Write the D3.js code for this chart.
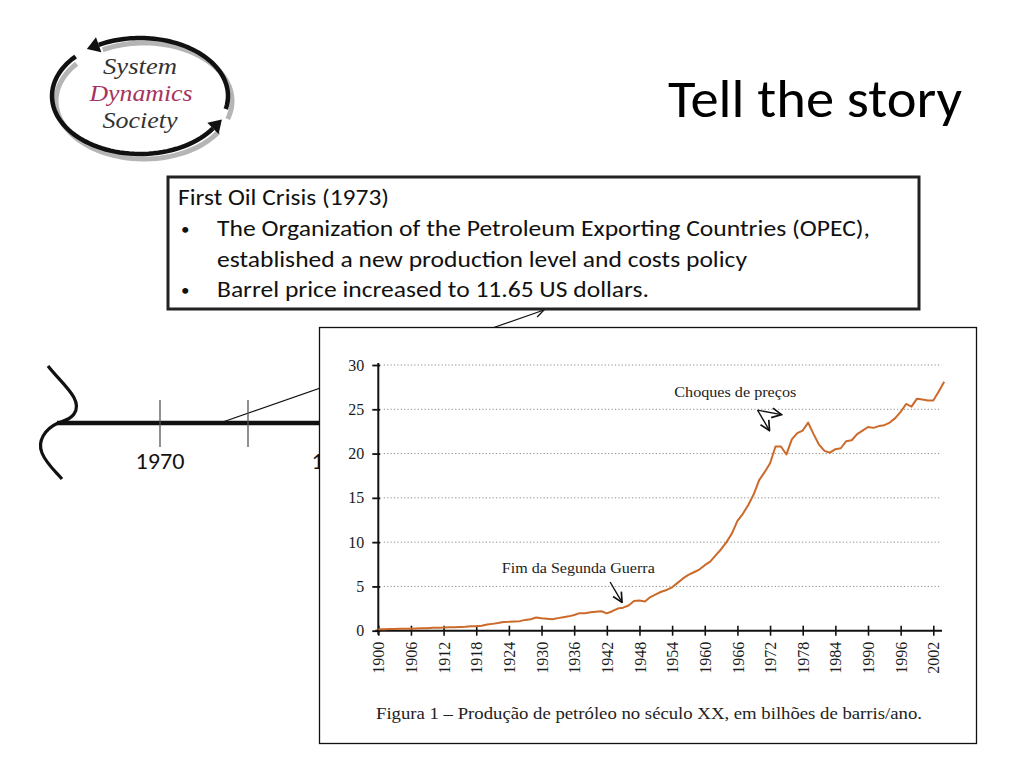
<!DOCTYPE html>
<html><head><meta charset="utf-8">
<script src="https://cdn.jsdelivr.net/npm/d3@7"></script>
<style>html,body{margin:0;padding:0;background:#fff;overflow:hidden}</style>
</head><body>
<svg id="c" width="1024" height="768"></svg>
<script>
// ---- data ----
const years = [1900,1901,1902,1903,1904,1905,1906,1907,1908,1909,
  1910,1911,1912,1913,1914,1915,1916,1917,1918,1919,
  1920,1921,1922,1923,1924,1925,1926,1927,1928,1929,
  1930,1931,1932,1933,1934,1935,1936,1937,1938,1939,
  1940,1941,1942,1943,1944,1945,1946,1947,1948,1949,
  1950,1951,1952,1953,1954,1955,1956,1957,1958,1959,
  1960,1961,1962,1963,1964,1965,1966,1967,1968,1969,
  1970,1971,1972,1973,1974,1975,1976,1977,1978,1979,
  1980,1981,1982,1983,1984,1985,1986,1987,1988,1989,
  1990,1991,1992,1993,1994,1995,1996,1997,1998,1999,
  2000,2001,2002,2003,2004];
const production = [0.15,0.17,0.18,0.19,0.21,0.22,0.23,0.26,0.28,0.29,
  0.32,0.34,0.35,0.38,0.40,0.42,0.45,0.50,0.50,0.55,
  0.69,0.77,0.86,0.98,1.00,1.05,1.08,1.22,1.30,1.49,
  1.41,1.36,1.30,1.42,1.52,1.62,1.78,1.98,1.97,2.08,
  2.15,2.20,1.95,2.20,2.50,2.60,2.85,3.35,3.40,3.30,
  3.80,4.10,4.40,4.60,4.90,5.40,5.90,6.30,6.60,6.90,
  7.40,7.80,8.50,9.20,10.00,11.00,12.40,13.20,14.20,15.40,
  17.00,17.90,18.90,20.80,20.80,19.90,21.60,22.30,22.60,23.50,
  22.20,21.00,20.30,20.10,20.50,20.60,21.40,21.50,22.20,22.60,
  23.00,22.90,23.10,23.20,23.50,24.00,24.70,25.60,25.30,26.20,
  26.10,26.00,26.00,27.00,28.10];
const yTicks = [0,5,10,15,20,25,30];
const xTickYears = [1900,1906,1912,1918,1924,1930,1936,1942,1948,1954,1960,1966,1972,1978,1984,1990,1996,2002];
const timelineTickYears = [1970,1975,1980];
const timelineLabelYears = [1970,1980];
const title = "Tell the story";
const logoWords = ["System","Dynamics","Society"];
const boxHeading = "First Oil Crisis (1973)";
const boxLines = [
  {bullet:true,  text:"The Organization of the Petroleum Exporting Countries (OPEC),", w:653},
  {bullet:false, text:"established a new production level and costs policy", w:530},
  {bullet:true,  text:"Barrel price increased to 11.65 US dollars.", w:432}
];
const caption = "Figura 1 \u2013 Produ\u00e7\u00e3o de petr\u00f3leo no s\u00e9culo XX, em bilh\u00f5es de barris/ano.";
const annoShock = "Choques de pre\u00e7os";
const annoWar = "Fim da Segunda Guerra";

const svg = d3.select("#c");
const defs = svg.append("defs");
function openArrow(id, size, sw){
  defs.append("marker").attr("id",id).attr("viewBox","0 0 10 10").attr("refX",9).attr("refY",5)
    .attr("markerWidth",size).attr("markerHeight",size).attr("orient","auto").attr("markerUnits","userSpaceOnUse")
    .append("path").attr("d","M1,1 L9,5 L1,9").attr("fill","none").attr("stroke","#111").attr("stroke-width",sw);
}
openArrow("arr", 11, 1.2);
openArrow("arr2", 12, 1.4);
defs.append("clipPath").attr("id","leftClip").append("rect").attr("x",0).attr("y",0).attr("width",319).attr("height",768);

// ---- logo ----
const logo = svg.append("g");
const cx = 140, cy = 96, rx = 88, ry = 58;
function ell(a){ return [cx + rx*Math.cos(a), cy + ry*Math.sin(a)]; }
function arcPath(a0, a1, n, dx, dy){
  const pts = d3.range(n+1).map(i => { const p = ell(a0 + (a1-a0)*i/n); return [p[0]+dx, p[1]+dy]; });
  return d3.line()(pts);
}
const deg = Math.PI/180;
logo.append("path").attr("d", arcPath(18*deg, -118*deg, 60, 4, 5)).attr("fill","none").attr("stroke","#b5b5b5").attr("stroke-width",5);
logo.append("path").attr("d", arcPath(-140*deg, -328*deg, 60, 4, 5)).attr("fill","none").attr("stroke","#b5b5b5").attr("stroke-width",5);
logo.append("path").attr("d", arcPath(13*deg, -118*deg, 60, 0, 0)).attr("fill","none").attr("stroke","#111").attr("stroke-width",4.5);
logo.append("path").attr("d", arcPath(-137*deg, -326*deg, 60, 0, 0)).attr("fill","none").attr("stroke","#111").attr("stroke-width",4.5);
function headAt(a, dir){
  const p = ell(a); const q = ell(a + dir*0.02);
  const ang = Math.atan2(q[1]-p[1], q[0]-p[0]);
  const L = 18, W = 8;
  const tip = [p[0] + Math.cos(ang)*L*0.7, p[1] + Math.sin(ang)*L*0.7];
  const b1 = [p[0] - Math.sin(ang)*W, p[1] + Math.cos(ang)*W];
  const b2 = [p[0] + Math.sin(ang)*W, p[1] - Math.cos(ang)*W];
  logo.append("path").attr("d", `M${b1}L${tip}L${b2}Z`).attr("fill","#111");
}
headAt(-118*deg, -1);
headAt(-326*deg, -1);
const logoFont = "'Liberation Serif','Times New Roman',serif";
const logoStyle = [{x:140,y:74,w:74,c:"#333"},{x:141,y:101,w:103,c:"#a8325e"},{x:140,y:128,w:75,c:"#333"}];
logoWords.forEach((wd,i)=>{
  const s = logoStyle[i];
  logo.append("text").attr("x",s.x).attr("y",s.y).attr("text-anchor","middle").attr("font-family",logoFont)
    .attr("font-style","italic").attr("font-size",24).attr("fill",s.c).attr("textLength",s.w)
    .attr("lengthAdjust","spacingAndGlyphs").text(wd);
});

// ---- title ----
svg.append("text").attr("x",668).attr("y",117).attr("font-family","Carlito,Lato,'Open Sans',sans-serif")
  .attr("font-size",54).attr("fill","#000").attr("textLength",294).attr("lengthAdjust","spacingAndGlyphs").text(title);

// ---- timeline ----
const tScale = d3.scaleLinear().domain([1970,1975]).range([160,248]);
const tl = svg.append("g");
tl.append("line").attr("x1", tScale(1973.4)).attr("y1",423).attr("x2",544).attr("y2",310)
  .attr("stroke","#111").attr("stroke-width",1.1).attr("marker-end","url(#arr)");
tl.append("line").attr("x1",57).attr("x2",tScale(1980)+20).attr("y1",423).attr("y2",423).attr("stroke","#111").attr("stroke-width",4.5);
tl.selectAll("line.tk").data(timelineTickYears).join("line").attr("class","tk")
  .attr("x1",d=>tScale(d)).attr("x2",d=>tScale(d)).attr("y1",400).attr("y2",447).attr("stroke","#555").attr("stroke-width",1.3);
tl.append("g").attr("clip-path","url(#leftClip)")
  .selectAll("text.tl").data(timelineLabelYears).join("text").attr("class","tl")
  .attr("x",d=>tScale(d)).attr("y",469).attr("text-anchor","middle").attr("font-family","Carlito,Lato,sans-serif")
  .attr("font-size",22).attr("fill","#111").attr("textLength",49).attr("lengthAdjust","spacingAndGlyphs").text(d=>d);
tl.append("path").attr("d","M48,366 C62,384 84,400 74,414 C70,420 63,421 58,423 C45,429 37,441 42,453 C46,463 54,470 62,479")
  .attr("fill","none").attr("stroke","#111").attr("stroke-width",3.2);

// ---- text box ----
const tb = svg.append("g");
tb.append("rect").attr("x",168).attr("y",177).attr("width",751).attr("height",132).attr("fill","#fff").attr("stroke","#222").attr("stroke-width",3);
const tbFont = "Carlito,Lato,'Open Sans',sans-serif";
tb.append("text").attr("x",178).attr("y",205).attr("font-family",tbFont).attr("font-size",22).attr("fill","#111")
  .attr("textLength",211).attr("lengthAdjust","spacingAndGlyphs").text(boxHeading);
boxLines.forEach((l,i)=>{
  const yy = 236 + i*30.5;
  if(l.bullet) tb.append("text").attr("x",181).attr("y",yy-1).attr("font-family",tbFont).attr("font-size",17).attr("fill","#111").text("\u2022");
  tb.append("text").attr("x",217).attr("y",yy).attr("font-family",tbFont).attr("font-size",22).attr("fill","#111")
    .attr("textLength",l.w).attr("lengthAdjust","spacingAndGlyphs").text(l.text);
});

// ---- chart image box ----
svg.append("rect").attr("x",319.5).attr("y",327.5).attr("width",657).attr("height",416).attr("fill","#fff").attr("stroke","#111").attr("stroke-width",1.3);

const x = d3.scaleLinear().domain([1900,2002]).range([378.3,933.3]);
const y = d3.scaleLinear().domain([0,30]).range([630.7,365]);
const serif = "'Liberation Serif','Times New Roman',serif";
const ch = svg.append("g");
ch.selectAll("line.grid").data(yTicks.filter(d=>d>0)).join("line").attr("class","grid")
  .attr("x1",x(1901)).attr("x2",x(2003.5)).attr("y1",d=>y(d)).attr("y2",d=>y(d))
  .attr("stroke","#8a8a8a").attr("stroke-width",1).attr("stroke-dasharray","1.2,2.2");
const yAx = ch.append("g").attr("transform",`translate(${x(1900)},0)`)
  .call(d3.axisLeft(y).tickValues(yTicks).tickSize(6).tickPadding(8));
yAx.select(".domain").attr("stroke","#111").attr("stroke-width",2).attr("d",`M0,${y(0)+4}V${y(30)-2}`);
yAx.selectAll(".tick line").attr("stroke","#111").attr("stroke-width",1.8).attr("x1",2);
yAx.selectAll(".tick text").attr("font-family",serif).attr("font-size",16).attr("fill","#1a1a1a");
const xAx = ch.append("g").attr("transform",`translate(0,${y(0)})`)
  .call(d3.axisBottom(x).tickValues(xTickYears).tickSize(5).tickFormat(d3.format("d")));
xAx.select(".domain").attr("stroke","#111").attr("stroke-width",2).attr("d",`M${x(1900)-3},0H${x(2003.6)}`);
xAx.selectAll(".tick line").attr("stroke","#111").attr("stroke-width",1.6).attr("y1",-5).attr("y2",5);
xAx.selectAll(".tick text").attr("font-family",serif).attr("font-size",16).attr("fill","#1a1a1a")
  .attr("transform","rotate(-90)").attr("text-anchor","end").attr("x",-11).attr("y",0).attr("dy","0.35em");
ch.append("path").datum(years.map((yr,i)=>[yr,production[i]]))
  .attr("d", d3.line().x(d=>x(d[0])).y(d=>y(d[1])))
  .attr("fill","none").attr("stroke","#cb6a2a").attr("stroke-width",2).attr("stroke-linejoin","round");
// annotations
ch.append("text").attr("x",x(1922.7)).attr("y",y(6.5)).attr("font-family",serif).attr("font-size",15).attr("fill","#222")
  .attr("textLength",153).attr("lengthAdjust","spacingAndGlyphs").text(annoWar);
ch.append("line").attr("x1",x(1942.6)).attr("y1",y(5.5)).attr("x2",x(1944.8)).attr("y2",y(3.2))
  .attr("stroke","#111").attr("stroke-width",1.4).attr("marker-end","url(#arr2)");
ch.append("text").attr("x",x(1954.4)).attr("y",y(26.4)).attr("font-family",serif).attr("font-size",15).attr("fill","#222")
  .attr("textLength",122).attr("lengthAdjust","spacingAndGlyphs").text(annoShock);
ch.append("line").attr("x1",x(1969.7)).attr("y1",y(24.9)).attr("x2",x(1974.1)).attr("y2",y(24.4))
  .attr("stroke","#111").attr("stroke-width",1.4).attr("marker-end","url(#arr2)");
ch.append("line").attr("x1",x(1969.7)).attr("y1",y(24.9)).attr("x2",x(1971.9)).attr("y2",y(22.6))
  .attr("stroke","#111").attr("stroke-width",1.4).attr("marker-end","url(#arr2)");
ch.append("text").attr("x",376).attr("y",719).attr("font-family",serif).attr("font-size",17).attr("fill","#222")
  .attr("textLength",546).attr("lengthAdjust","spacingAndGlyphs").text(caption);
</script>
</body></html>
